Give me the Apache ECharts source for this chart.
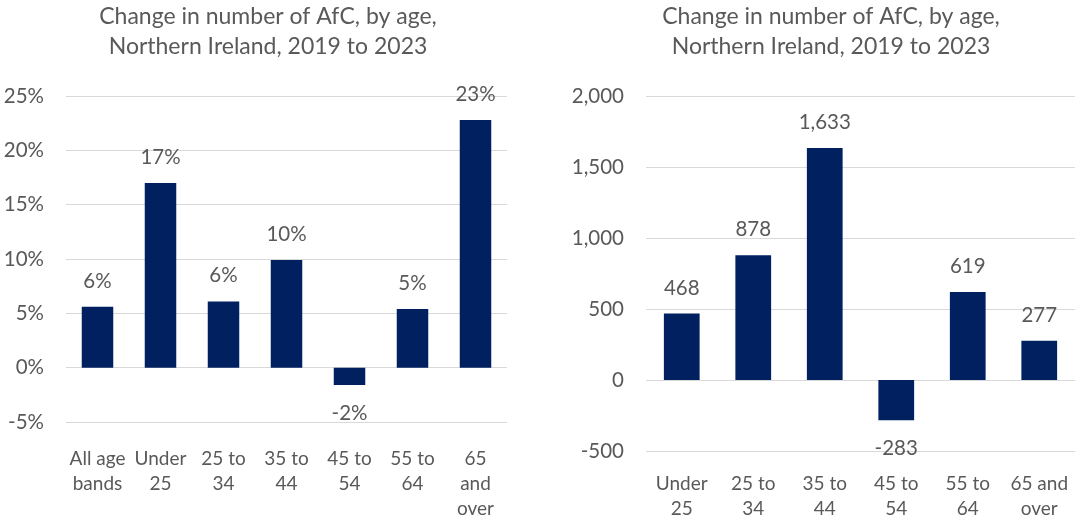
<!DOCTYPE html>
<html>
<head>
<meta charset="utf-8">
<script src="https://cdn.jsdelivr.net/npm/echarts@6/dist/echarts.min.js"></script>
<style>
  html, body { margin: 0; padding: 0; background: #ffffff; }
  #chart { width: 1091px; height: 523px; }
</style>
</head>
<body>
<div id="chart"></div>
<script>
// Chart titles
const titleLines = ['Change in number of AfC, by age,', 'Northern Ireland, 2019 to 2023'];

// Left panel: percentage change by age band
const pctCategories = ['All age\nbands', 'Under\n25', '25 to\n34', '35 to\n44', '45 to\n54', '55 to\n64', '65\nand\nover'];
const pctValues = [5.6, 17.0, 6.1, 9.9, -1.6, 5.4, 22.8];
const pctTicks = { min: -5, max: 25, interval: 5 };

// Right panel: change in headcount by age band
const countCategories = ['Under\n25', '25 to\n34', '35 to\n44', '45 to\n54', '55 to\n64', '65 and\nover'];
const countValues = [468, 878, 1633, -283, 619, 277];
const countTicks = { min: -500, max: 2000, interval: 500 };

const FONT = 'Lato';
const TEXT = '#595959';
const BAR = '#002060';
const GRID_LINE = '#d9d9d9';
const NUM_SIZE = 20.5;

const fmtCount = v => Math.round(v).toLocaleString('en-US');
const fmtPct = v => Math.round(v) + '%';

function barData(values) {
  return values.map(v => ({
    value: v,
    label: v < 0 ? { position: 'bottom', distance: 17 } : { position: 'top', distance: 14.5 }
  }));
}

function valueAxis(gridIndex, ticks, formatter) {
  return {
    type: 'value', gridIndex,
    min: ticks.min, max: ticks.max, interval: ticks.interval,
    axisLine: { show: false }, axisTick: { show: false },
    splitLine: { lineStyle: { color: GRID_LINE, width: 1 } },
    axisLabel: { color: TEXT, fontFamily: FONT, fontSize: NUM_SIZE, margin: 22, formatter }
  };
}

function categoryAxis(gridIndex, data, margin) {
  return {
    type: 'category', gridIndex, data,
    axisLine: { show: false, onZero: false }, axisTick: { show: false },
    axisLabel: { color: TEXT, fontFamily: FONT, fontSize: 19, lineHeight: 25, margin, interval: 0 }
  };
}

function barSeries(index, values, formatter) {
  return {
    type: 'bar', xAxisIndex: index, yAxisIndex: index,
    data: barData(values),
    barCategoryGap: '50%',
    itemStyle: { color: BAR },
    label: {
      show: true, color: TEXT, fontFamily: FONT, fontSize: NUM_SIZE, lineHeight: 22,
      formatter: p => formatter(p.value)
    },
    emphasis: { disabled: true }
  };
}

function titleText(cx) {
  return {
    type: 'text', x: cx, y: 2,
    style: {
      text: titleLines.join('\n'), textAlign: 'center', textVerticalAlign: 'top',
      fill: TEXT, font: '23px ' + FONT, lineHeight: 30
    }
  };
}

const chart = echarts.init(document.getElementById('chart'), null, { renderer: 'canvas' });
chart.setOption({
  animation: false,
  backgroundColor: '#ffffff',
  graphic: [titleText(268), titleText(831)],
  grid: [
    { left: 66, top: 96, width: 441, height: 326 },
    { left: 646, top: 96, width: 429, height: 355 }
  ],
  xAxis: [
    categoryAxis(0, pctCategories, 24),
    categoryAxis(1, countCategories, 20)
  ],
  yAxis: [
    valueAxis(0, pctTicks, v => v + '%'),
    valueAxis(1, countTicks, fmtCount)
  ],
  series: [
    barSeries(0, pctValues, fmtPct),
    barSeries(1, countValues, fmtCount)
  ]
});
</script>
</body>
</html>
